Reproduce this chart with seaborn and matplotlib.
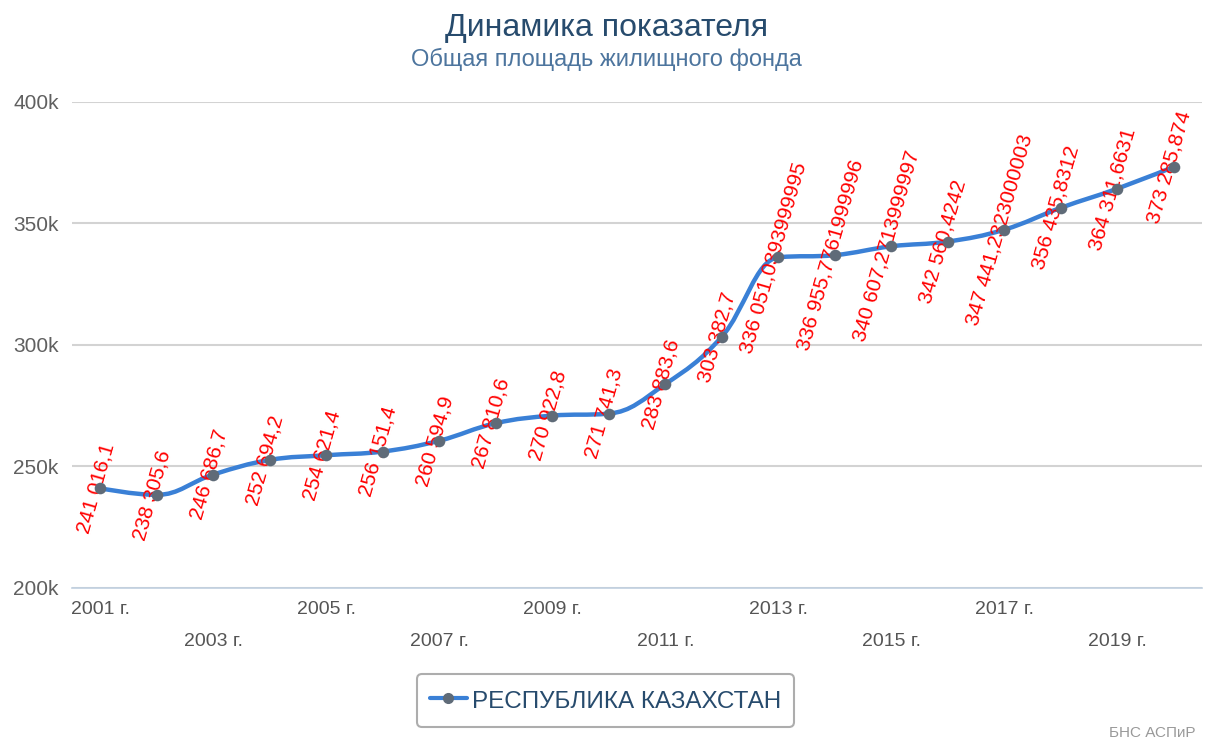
import numpy as np
import pandas as pd
import seaborn as sns
import matplotlib.pyplot as plt
from matplotlib.path import Path
from matplotlib.patches import PathPatch
from matplotlib.lines import Line2D

years = list(range(2001, 2021))
values = [241016.1, 238305.6, 246686.7, 252694.2, 254621.4, 256151.4, 260594.9,
          267810.6, 270922.8, 271741.3, 283883.6, 303382.7, 336051.0393999995,
          336955.7761999996, 340607.2713999997, 342560.4242, 347441.2323000003,
          356435.8312, 364311.6631, 373285.874]
point_labels = ["241 016,1", "238 305,6", "246 686,7", "252 694,2", "254 621,4",
                "256 151,4", "260 594,9", "267 810,6", "270 922,8", "271 741,3",
                "283 883,6", "303 382,7", "336 051,0393999995", "336 955,7761999996",
                "340 607,2713999997", "342 560,4242", "347 441,2323000003",
                "356 435,8312", "364 311,6631", "373 285,874"]
series_name = "РЕСПУБЛИКА КАЗАХСТАН"
yticks = [200000, 250000, 300000, 350000, 400000]
ytick_labels = ["200k", "250k", "300k", "350k", "400k"]

df = pd.DataFrame({"x": np.arange(len(years)), "value": values})

sns.set_style("white")
plt.rcParams["font.family"] = ["Liberation Sans", "DejaVu Sans"]

line_color = "#3a80d6"
marker_color = "#5f6b78"

fig = plt.figure(figsize=(12.05, 7.47), dpi=100)
ax = fig.add_axes([0.0598, 0.2129, 0.9377, 0.6506])


# spline like highcharts (smoothing 1.5)
def spline_path(xs, ys):
    sm = 1.5
    denom = sm + 1
    verts = [(xs[0], ys[0])]
    codes = [Path.MOVETO]
    n = len(xs)
    lc = [None] * n
    rc = [None] * n
    for i in range(1, n - 1):
        x, y = xs[i], ys[i]
        px, py = xs[i - 1], ys[i - 1]
        nx, ny = xs[i + 1], ys[i + 1]
        lcx = (sm * x + px) / denom
        lcy = (sm * y + py) / denom
        rcx = (sm * x + nx) / denom
        rcy = (sm * y + ny) / denom
        corr = ((rcy - lcy) * (rcx - x)) / (rcx - lcx) + y - rcy
        lcy += corr
        rcy += corr
        if lcy > py and lcy > y:
            lcy = max(py, y)
            rcy = 2 * y - lcy
        elif lcy < py and lcy < y:
            lcy = min(py, y)
            rcy = 2 * y - lcy
        if rcy > ny and rcy > y:
            rcy = max(ny, y)
            lcy = 2 * y - rcy
        elif rcy < ny and rcy < y:
            rcy = min(ny, y)
            lcy = 2 * y - rcy
        lc[i] = (lcx, lcy)
        rc[i] = (rcx, rcy)
    for i in range(1, n):
        c1 = rc[i - 1] if rc[i - 1] is not None else (xs[i - 1], ys[i - 1])
        c2 = lc[i] if lc[i] is not None else (xs[i], ys[i])
        verts += [c1, c2, (xs[i], ys[i])]
        codes += [Path.CURVE4] * 3
    return Path(verts, codes)


ax.add_patch(PathPatch(spline_path(df["x"].values, df["value"].values),
                       facecolor="none", edgecolor=line_color, lw=3.2, zorder=3,
                       capstyle="round", joinstyle="round"))
sns.scatterplot(data=df, x="x", y="value", ax=ax, color=marker_color, s=70,
                edgecolor=marker_color, linewidth=0, zorder=6, legend=False)

for xi, v, lab in zip(df["x"], df["value"], point_labels):
    ax.text(xi - 0.08, v, lab, rotation=74, rotation_mode="anchor", ha="center",
            va="center", color="red", fontsize=15, zorder=5)

ax.set_xlim(-0.5, len(years) - 0.5)
ax.set_ylim(200000, 400000)
ax.set_yticks(yticks)
ax.set_yticklabels(ytick_labels)
ax.grid(axis="y", color="#d3d3d3", lw=1.5)
ax.set_axisbelow(True)
ax.set_xlabel("")
ax.set_ylabel("")

for s in ["left", "right", "top"]:
    ax.spines[s].set_visible(False)
ax.spines["bottom"].set_color("#c0d0e0")
ax.spines["bottom"].set_linewidth(1.2)

ax.set_xticks(np.arange(-0.5, len(years)), minor=False)
ax.set_xticklabels([""] * (len(years) + 1))
ax.tick_params(axis="x", which="major", length=9, width=1.2, color="#c0d0e0",
               direction="out")
xlabels = []
for i, yr in enumerate(years):
    if i % 4 == 0:
        xlabels.append(f"{yr} г.")
    elif i % 4 == 2:
        xlabels.append(f"\n{yr} г.")
    else:
        xlabels.append("")
ax.set_xticks(np.arange(len(years)), minor=True)
ax.set_xticklabels(xlabels, minor=True, fontsize=14, color="#555555",
                   linespacing=2.12)
ax.tick_params(axis="x", which="minor", length=0, pad=9.5)
ax.tick_params(axis="y", length=0, pad=9.5, labelsize=15, labelcolor="#606060")

fig.text(0.503, 0.962, "Динамика показателя", ha="center", va="center",
         fontsize=23, color="#274b6d")
fig.text(0.503, 0.921, "Общая площадь жилищного фонда", ha="center",
         va="center", fontsize=17, color="#4d759e")

handle = Line2D([], [], color=line_color, lw=3, marker="o", markersize=7,
                markerfacecolor=marker_color, markeredgecolor=marker_color)
leg = fig.legend([handle], [series_name], loc="center",
                 bbox_to_anchor=(0.5025, 0.0625), frameon=True, fontsize=17.5,
                 handlelength=1.5, handleheight=1.2, borderpad=0.55,
                 handletextpad=0.2, labelcolor="#274b6d", fancybox=True)
leg.get_frame().set_edgecolor("#999999")
leg.get_frame().set_linewidth(1.5)

fig.text(0.992, 0.01, "БНС АСПиР", ha="right", va="bottom", fontsize=11,
         color="#999999")

fig.savefig("out.png", dpi=100, facecolor="white")
